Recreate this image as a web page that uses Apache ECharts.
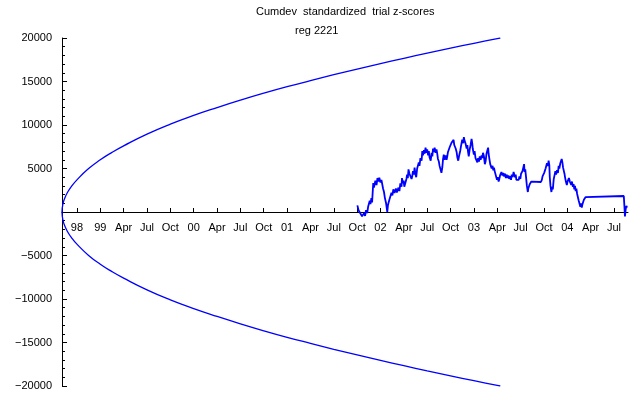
<!DOCTYPE html>
<html><head><meta charset="utf-8">
<script src="https://cdn.jsdelivr.net/npm/echarts@6/dist/echarts.min.js"></script>
<style>html,body{margin:0;padding:0;background:#fff}#c{width:640px;height:395px}</style>
</head><body><div id="c"></div>
<script>
// x positions are in quarters (0 = first labelled tick "98")
var tickLabels = ["98","99","Apr","Jul","Oct","00","Apr","Jul","Oct","01","Apr","Jul","Oct","02","Apr","Jul","Oct","03","Apr","Jul","Oct","04","Apr","Jul"];

var envQ     = [-0.64,-0.6,-0.5,-0.4,-0.25,0,0.5,1,1.5,2,3,4,5,6,7,8,9,10,11,12,13,14,15,16,17,18,18.13];
var envUpper = [0,940,1734,2267,2887,3697,4990,6000,6850,7600,8950,10100,11100,12000,12850,13650,14400,15100,15780,16430,17060,17670,18260,18830,19390,19930,20000];
var envLower = [0,-940,-1734,-2267,-2887,-3697,-4990,-6000,-6850,-7600,-8950,-10100,-11100,-12000,-12850,-13650,-14400,-15100,-15780,-16430,-17060,-17670,-18260,-18830,-19390,-19930,-20000];

var cumQ = [12.01,12.06,12.14,12.21,12.26,12.30,12.34,12.38,12.43,12.47,12.51,12.54,12.57,12.61,12.64,12.69,12.72,12.78,12.83,12.87,12.91,12.95,13.00,13.04,13.11,13.15,13.19,13.24,13.29,13.32,13.38,13.43,13.47,13.51,13.55,13.60,13.66,13.70,13.77,13.81,13.85,13.90,13.92,13.96,13.99,14.02,14.07,14.11,14.14,14.17,14.20,14.24,14.29,14.33,14.36,14.39,14.43,14.46,14.50,14.53,14.57,14.61,14.64,14.67,14.71,14.76,14.79,14.82,14.86,14.89,14.93,14.97,15.00,15.04,15.07,15.10,15.15,15.19,15.22,15.25,15.29,15.32,15.36,15.40,15.43,15.46,15.50,15.53,15.57,15.61,15.65,15.68,15.71,15.74,15.79,15.83,15.86,15.89,15.93,15.97,16.00,16.05,16.10,16.13,16.16,16.20,16.22,16.26,16.29,16.33,16.37,16.42,16.45,16.50,16.54,16.57,16.60,16.64,16.69,16.72,16.75,16.78,16.82,16.86,16.90,16.93,16.95,17.00,17.03,17.07,17.12,17.15,17.18,17.22,17.25,17.29,17.33,17.36,17.39,17.43,17.47,17.50,17.54,17.57,17.61,17.63,17.67,17.70,17.73,17.76,17.80,17.83,17.86,17.89,17.93,17.96,17.99,18.02,18.06,18.09,18.12,18.15,18.18,18.22,18.25,18.28,18.33,18.37,18.40,18.44,18.48,18.51,18.55,18.59,18.62,18.66,18.70,18.73,18.76,18.79,18.82,18.86,18.89,18.92,18.95,18.99,19.02,19.05,19.08,19.12,19.15,19.17,19.20,19.23,19.27,19.31,19.33,19.36,19.39,19.42,19.46,19.49,19.52,19.87,19.91,19.94,19.97,20.01,20.04,20.07,20.10,20.13,20.17,20.20,20.23,20.25,20.28,20.32,20.35,20.38,20.42,20.46,20.49,20.52,20.56,20.60,20.63,20.66,20.70,20.73,20.76,20.79,20.82,20.85,20.88,20.91,20.94,20.98,21.01,21.04,21.07,21.11,21.14,21.17,21.20,21.24,21.27,21.30,21.33,21.36,21.39,21.42,21.46,21.49,21.52,21.56,21.59,21.62,21.65,21.68,21.71,21.75,21.78,21.81,23.42,23.45,23.47,23.50,23.53,23.56];
var cumDev = [760,200,100,-500,-690,-100,-450,200,-115,600,500,1300,900,1600,1100,3332,2800,3600,3100,3900,3500,3950,3400,3700,2700,2300,1600,1000,0,800,1413,1200,2200,1900,2600,2200,2700,2250,2800,2400,3300,2900,3900,3300,3600,2900,3400,3800,4300,3900,4900,4400,4600,3800,4100,4700,4300,5100,4300,4000,5000,4800,5700,5300,6200,5900,7000,6500,7100,6700,7400,6800,7200,6500,7000,6300,5900,6800,6400,7300,6900,7400,6800,7200,6700,6100,5800,5300,4900,4500,5200,6100,6600,6000,6500,6000,6400,6900,6700,7500,7300,8000,7800,8300,7700,7900,7300,6900,6300,5900,6500,7100,7600,8300,7900,8600,8200,7900,7300,7700,6900,6400,7200,7700,8400,7900,7300,6600,7000,6200,6000,5700,6200,5800,6400,6000,6500,6200,6800,6400,5500,5800,6700,7000,7400,6700,6000,5500,5700,5000,5300,4800,5100,4700,4500,4000,3700,4000,3500,3800,4200,4000,4600,4200,4500,4100,4400,3900,4300,3900,4200,3800,4100,3700,4300,4000,4600,4300,4000,4300,3700,3500,3900,3700,4100,3800,4400,4200,4700,4500,5500,4600,4900,4100,3000,2300,2700,2500,3200,3000,3500,3400,3500,3450,3700,4100,4000,4500,4400,5000,4900,5600,5300,5900,5400,4000,3000,2300,2900,2600,3800,4300,4700,4300,4800,4500,5300,5000,5600,5400,6100,5700,5100,5300,4400,3900,3500,3100,3500,3300,3900,3500,3700,3100,3500,2900,3200,2600,3000,2400,2700,2100,1900,1300,1100,600,1000,500,900,700,1400,1200,1700,1838,1838,500,-500,300,700,500];

function pairs(xs, ys){ var o=[]; for(var i=0;i<xs.length;i++) o.push([xs[i], ys[i]]); return o; }
var tickVals = tickLabels.map(function(_, i){ return i; });
var font = "Liberation Sans, Arial, sans-serif";

var chart = echarts.init(document.getElementById('c'), null, {renderer:'canvas'});
chart.setOption({
  animation:false,
  backgroundColor:'#fff',
  title:[
    {text:'Cumdev  standardized  trial z-scores', left:251, top:1, textStyle:{fontSize:11, fontWeight:'normal', color:'#000', fontFamily:font}},
    {text:'reg 2221', left:290, top:20, textStyle:{fontSize:11, fontWeight:'normal', color:'#000', fontFamily:font}}
  ],
  grid:{left:62, right:12, top:38, bottom:9, containLabel:false,
        outerBounds:{left:-200, right:-200, top:-200, bottom:-200}},
  xAxis:{
    type:'value', min:-0.64, max:23.6, position:'bottom', offset:-174,
    axisLine:{onZero:false, lineStyle:{color:'#000', width:1}},
    splitLine:{show:false},
    axisTick:{show:true, inside:true, length:4, customValues:tickVals, lineStyle:{color:'#000'}},
    axisLabel:{show:true, customValues:tickVals, margin:10, color:'#000', fontSize:11, fontFamily:font,
      formatter:function(v){ var i=Math.round(v); return tickLabels[i]||''; }}
  },
  yAxis:{
    type:'value', min:-20000, max:20000, interval:5000,
    axisLine:{show:true, onZero:false, lineStyle:{color:'#000', width:1}},
    splitLine:{show:false},
    axisTick:{show:true, inside:true, length:5, lineStyle:{color:'#000'}},
    minorTick:{show:true, splitNumber:5, length:3, lineStyle:{color:'#000'}},
    axisLabel:{margin:10, color:'#000', fontSize:11, fontFamily:font,
      formatter:function(v){ return v===0 ? '' : String(v).replace('-', '\u2212'); }}
  },
  series:[
    {type:'line', data:pairs(envQ, envUpper), smooth:true, showSymbol:false, lineStyle:{color:'#0000ff', width:1.3}},
    {type:'line', data:pairs(envQ, envLower), smooth:true, showSymbol:false, lineStyle:{color:'#0000ff', width:1.3}},
    {type:'line', data:pairs(cumQ, cumDev), showSymbol:false, lineStyle:{color:'#0000ff', width:1.8}}
  ]
});
</script></body></html>
